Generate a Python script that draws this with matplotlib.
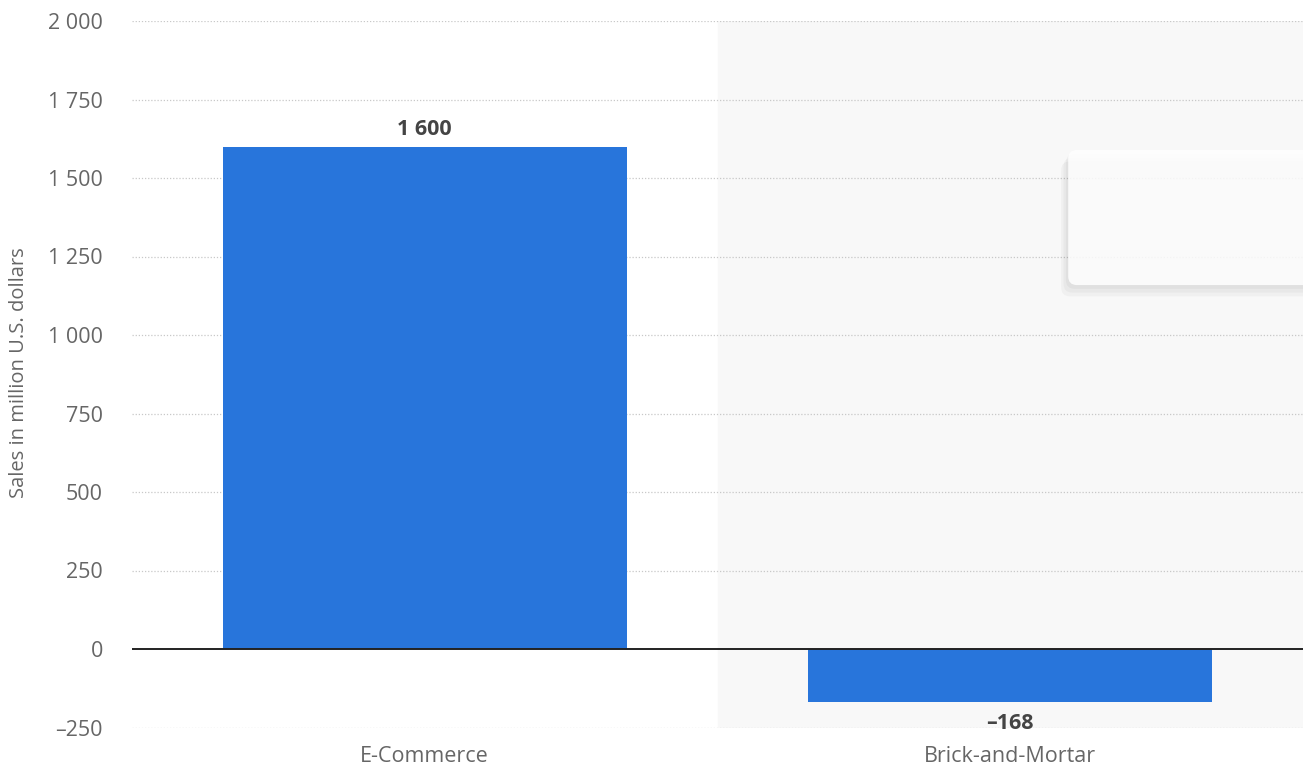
import matplotlib.pyplot as plt
from matplotlib.patches import FancyBboxPatch
from matplotlib.ticker import FuncFormatter

# Datos
categories = ['E-Commerce', 'Brick-and-Mortar']
sales = [1600, -168]
value_labels = ['1 600', '–168']
y_ticks = [-250, 0, 250, 500, 750, 1000, 1250, 1500, 1750, 2000]

bar_color = '#2875db'
tick_color = '#666666'

plt.rcParams['font.family'] = ['Open Sans', 'DejaVu Sans']

fig = plt.figure(figsize=(13.03, 7.69), dpi=100)
ax = fig.add_axes([132 / 1303, 1 - 727.5 / 769, 1 - 132 / 1303, (727.5 - 21) / 769])

x = list(range(len(categories)))

# fondo gris del elemento seleccionado
ax.axvspan(0.5, 1.5, color='#f8f8f8', zorder=0)

ax.set_xlim(-0.5, 1.5)
ax.set_ylim(-250, 2000)

for t in y_ticks:
    if t != 0:
        ax.axhline(t, color='#c8c8c8', lw=0.9, ls=(0, (1, 1.5)), zorder=1)

ax.bar(x, sales, width=0.69, color=bar_color, zorder=2)
ax.axhline(0, color='#222222', lw=1.4, zorder=3)

for xi, v, lab in zip(x, sales, value_labels):
    if v >= 0:
        ax.text(xi, v + 20, lab, ha='center', va='bottom', fontsize=15.5,
                fontweight='bold', color='#444444', zorder=4)
    else:
        ax.text(xi, v - 36, lab, ha='center', va='top', fontsize=15.5,
                fontweight='bold', color='#444444', zorder=4)

# caja del tooltip
for i, a in enumerate([0.03, 0.03, 0.03]):
    sh = FancyBboxPatch((1.099 - 0.004 * (i + 1), 1159 - 12 * (i + 1)),
                        0.6, 1589 - 1159,
                        boxstyle='round,pad=0,rounding_size=0.015',
                        mutation_aspect=1865, facecolor='#000000', alpha=a,
                        edgecolor='none', zorder=4, clip_on=True)
    ax.add_patch(sh)
box = FancyBboxPatch((1.099, 1159), 0.6, 1589 - 1159,
                     boxstyle='round,pad=0,rounding_size=0.015',
                     mutation_aspect=1865, facecolor='#ffffff', alpha=0.85,
                     edgecolor='none', zorder=5, clip_on=True)
ax.add_patch(box)

ax.set_yticks(y_ticks)
ax.yaxis.set_major_formatter(FuncFormatter(
    lambda v, p: f'{int(v):,}'.replace(',', ' ').replace('-', '–')))
ax.set_xticks(x)
ax.set_xticklabels(categories)
ax.tick_params(axis='both', length=0, labelsize=15.5, labelcolor=tick_color)
ax.tick_params(axis='y', pad=21)
ax.tick_params(axis='x', pad=13)

for s in ax.spines.values():
    s.set_visible(False)

fig.text(19 / 1303, 1 - 373 / 769, 'Sales in million U.S. dollars', rotation=90,
         ha='center', va='center', fontsize=14.5, color=tick_color)

fig.savefig('out.png', dpi=100)
